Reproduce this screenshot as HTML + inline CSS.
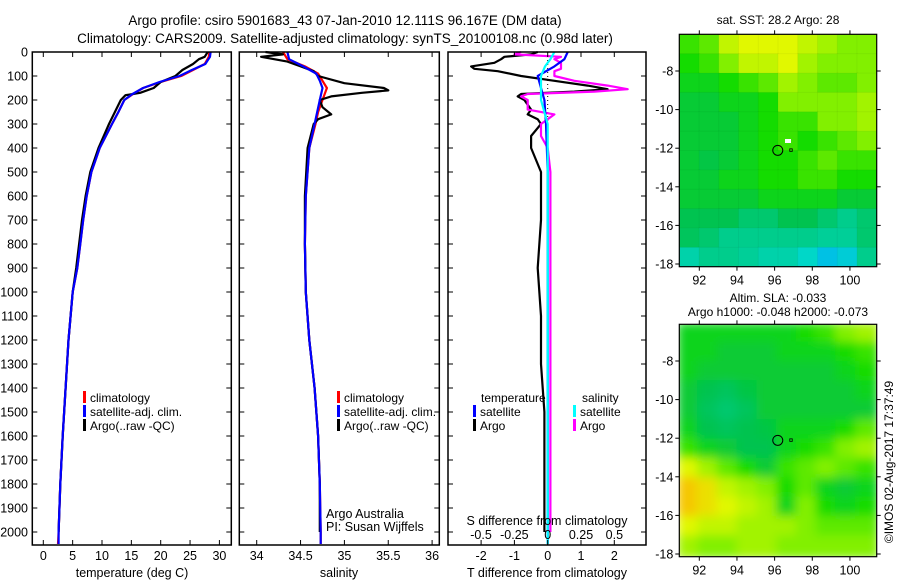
<!DOCTYPE html>
<html><head><meta charset="utf-8"><style>
body{margin:0;background:#fff;}
svg{display:block;font-family:"Liberation Sans",sans-serif;}
text{fill:#000;}
</style></head><body>
<svg id="c" width="900" height="580" viewBox="0 0 900 580">
<text x="345" y="25" font-size="13.5" text-anchor="middle">Argo profile: csiro 5901683_43 07-Jan-2010 12.111S 96.167E (DM data)</text>
<text x="345" y="43" font-size="13.5" text-anchor="middle">Climatology: CARS2009. Satellite-adjusted climatology: synTS_20100108.nc (0.98d later)</text>
</svg>
<script>
// ---- data ----
const tDepth=[0,20,50,75,100,125,150,175,200,250,300,400,500,600,700,800,900,1000,1200,1400,1600,1800,2000,2050];
const tClim=[28.3,28.2,27.5,25.5,23.5,20,17,15.3,13.8,12.8,11.7,9.6,8.2,7.4,6.8,6.3,5.8,5.0,4.3,3.8,3.3,2.9,2.6,2.5];
const tSat=[28.5,28.4,27.6,25.3,23.2,19.8,17.0,15.2,13.8,12.8,11.7,9.6,8.2,7.4,6.8,6.3,5.8,5.0,4.3,3.8,3.3,2.9,2.6,2.6];
const aDepth=[0,20,30,50,75,100,125,150,170,180,200,250,300,400,500,600,700,800,900,1000,1200,1400,1600,1800,2000];
const tArgo=[28.0,27.5,26.5,25.5,23.7,22.5,20,18.8,16.5,14,13.2,12.2,11.2,9.4,8.0,7.2,6.6,6.1,5.6,5.0,4.3,3.8,3.3,2.9,2.6];
const sDepth=[0,30,60,90,120,150,200,250,300,400,600,800,1000,1200,1400,1600,1800,2000,2050];
const sClim=[34.3,34.35,34.55,34.7,34.75,34.8,34.75,34.7,34.67,34.6,34.56,34.55,34.56,34.6,34.66,34.7,34.72,34.73,34.73];
const sSat=[34.35,34.37,34.53,34.68,34.72,34.75,34.72,34.69,34.66,34.6,34.56,34.55,34.56,34.6,34.66,34.7,34.72,34.73,34.73];
const saDepth=[0,10,20,40,60,80,100,130,150,160,170,185,200,230,260,280,300,400,600,800,1000,1200,1400,1600,1800,2000];
const sArgo=[34.1,34.3,34.05,34.35,34.5,34.65,34.7,35.0,35.45,35.5,35.2,34.85,34.72,34.75,34.85,34.7,34.65,34.58,34.55,34.55,34.56,34.6,34.66,34.7,34.72,34.72];
const dDepth=[0,10,20,30,45,60,70,80,100,120,140,155,165,175,185,200,220,240,260,280,300,350,400,500,700,900,1100,1300,1500,1700,1900,2000];
const tDiffArgo=[-0.3,-0.5,-1.3,-1.4,-1.6,-2.3,-2.2,-1.5,-0.8,0.2,1.2,1.8,0.8,-0.8,-0.9,-0.7,-0.6,-0.5,-0.6,-0.3,-0.2,-0.5,-0.5,-0.2,-0.2,-0.3,-0.2,-0.2,-0.1,-0.1,-0.1,-0.1];
const sDiffArgo=[-0.2,-0.25,0.1,0.05,0.1,0.1,0.1,0.05,0.05,0.2,0.45,0.6,0.35,-0.15,-0.2,-0.15,-0.15,-0.15,0.05,0,-0.05,-0.05,0,0.02,0.02,0.02,0.02,0.02,0.02,0.02,0.02,0.02];
const ddDepth=[0,30,60,100,150,200,300,500,2050];
const tDiffSat=[0.6,0.5,0.2,-0.3,-0.2,-0.1,-0.05,0,0];
const sDiffSat=[0.05,0.02,-0.02,-0.05,-0.05,-0.05,0,0,0];
const depthTicks=[0,100,200,300,400,500,600,700,800,900,1000,1100,1200,1300,1400,1500,1600,1700,1800,1900,2000];
const tTicks=[0,5,10,15,20,25,30];
const sTicks=[34,34.5,35,35.5,36];
const sTickLabels=["34","34.5","35","35.5","36"];
const tdTicks=[-2,-1,0,1,2];
const sdTicks=[-0.5,-0.25,0,0.25,0.5];
const sdTickLabels=["-0.5","-0.25","0","0.25","0.5"];
const lonTicks=[92,94,96,98,100];
const latTicks=[-8,-10,-12,-14,-16,-18];
const sstGrid=[
[.6,.65,.8,.85,.85,.85,.8,.75,.7,.7],
[.55,.6,.7,.8,.8,.85,.75,.7,.7,.7],
[.5,.5,.55,.6,.65,.75,.7,.65,.65,.7],
[.45,.45,.5,.5,.55,.7,.7,.7,.7,.75],
[.45,.45,.45,.5,.55,.6,.6,.7,.7,.75],
[.45,.45,.45,.5,.55,.6,.55,.6,.65,.7],
[.45,.42,.45,.5,.55,.55,.6,.65,.6,.6],
[.45,.45,.5,.5,.55,.55,.6,.6,.55,.55],
[.45,.45,.45,.45,.5,.5,.5,.5,.45,.45],
[.4,.4,.4,.35,.35,.4,.4,.35,.3,.35],
[.38,.35,.3,.3,.3,.3,.3,.28,.28,.35],
[.25,.3,.3,.28,.25,.25,.2,.1,.15,.3]];
const slaGrid=[
[.5,.5,.5,.5,.5,.5,.55,.6,.7,.75],
[.5,.5,.45,.45,.45,.5,.5,.5,.55,.6],
[.5,.45,.45,.45,.45,.45,.45,.45,.5,.55],
[.45,.4,.38,.42,.45,.45,.45,.45,.45,.5],
[.45,.38,.35,.38,.45,.45,.45,.45,.45,.45],
[.5,.4,.38,.4,.42,.5,.5,.5,.55,.65],
[.6,.5,.45,.4,.4,.5,.55,.6,.7,.75],
[.85,.75,.65,.55,.45,.6,.65,.7,.65,.6],
[.95,.9,.8,.75,.7,.55,.65,.5,.45,.5],
[.95,.9,.85,.8,.75,.5,.7,.55,.5,.55],
[.85,.8,.8,.75,.75,.75,.7,.65,.65,.65],
[.75,.7,.7,.75,.75,.7,.7,.7,.7,.7]];

const NS="http://www.w3.org/2000/svg";
const svg=document.getElementById('c');
function mk(tag,attrs,parent){const e=document.createElementNS(NS,tag);for(const k in attrs)e.setAttribute(k,attrs[k]);(parent||svg).appendChild(e);return e;}
function txt(x,y,s,size,anchor,parent){const e=mk('text',{x:x,y:y,'font-size':size,'text-anchor':anchor||'middle'},parent);e.textContent=s;return e;}

const Y0=52,YPX=0.24,PT=52,PB=545;
const yD=d=>Y0+d*YPX;
const xT=t=>43.3+t*5.87;
const xS=s=>256.7+(s-34)*87.7;
const xTD=t=>547.7+t*33.3;
const xSD=s=>547.7+s*133.3;

function frame(x0,x1,name){
  const r=mk('rect',{x:x0,y:PT,width:x1-x0,height:PB-PT,fill:'none',stroke:'#000','stroke-width':1.5});
  
  
  depthTicks.forEach(d=>{mk('line',{x1:x0,x2:x0+5,y1:yD(d),y2:yD(d),stroke:'#000'});mk('line',{x1:x1,x2:x1-5,y1:yD(d),y2:yD(d),stroke:'#000'});});
}
function xticks(vals,labels,fx,y0,name){
  vals.forEach((v,i)=>{const x=fx(v);mk('line',{x1:x,x2:x,y1:PB,y2:PB-5,stroke:'#000'});mk('line',{x1:x,x2:x,y1:PT,y2:PT+5,stroke:'#000'});
    const t=txt(x,y0,labels[i],12.5);
    
    });
}
function line(xs,ds,fx,color,name,w){
  const pts=xs.map((v,i)=>fx(v).toFixed(1)+','+yD(ds[i]).toFixed(1)).join(' ');
  const p=mk('polyline',{points:pts,fill:'none',stroke:color,'stroke-width':w||2.2,'stroke-linejoin':'round'});
  
  
}
const defs=mk('defs',{});

// panel 1
line(tClim,tDepth,xT,'#f00','temp-climatology-line');
line(tArgo,aDepth,xT,'#000','temp-argo-line');
line(tSat,tDepth,xT,'#0000ff','temp-satellite-line');
frame(32.3,231.3,'temperature-panel');
xticks(tTicks,tTicks.map(String),xT,560,'temperature-tick');
depthTicks.forEach(d=>{const t=txt(28,yD(d)+4.5,String(d),12.5,'end');
  
  });
let t=txt(132,577,'temperature (deg C)',12.5);



// panel 2
line(sClim,sDepth,xS,'#f00','salinity-climatology-line');
line(sArgo,saDepth,xS,'#000','salinity-argo-line');
line(sSat,sDepth,xS,'#0000ff','salinity-satellite-line');
frame(239.3,439.3,'salinity-panel');
xticks(sTicks,sTickLabels,xS,560,'salinity-tick');
t=txt(339,577,'salinity',12.5);


t=txt(326,518,'Argo Australia',12.5,'start');


t=txt(326,531,'PI: Susan Wijffels',12.5,'start');



// panel 3
mk('line',{x1:xTD(0),x2:xTD(0),y1:PT,y2:PB,stroke:'#000','stroke-dasharray':'1,3'});
line(tDiffArgo,dDepth,xTD,'#000','temp-diff-argo-line');
line(sDiffArgo,dDepth,xSD,'#ff00ff','sal-diff-argo-line');
line(tDiffSat,ddDepth,xTD,'#0000ff','temp-diff-satellite-line');
line(sDiffSat,ddDepth,xSD,'#00ffff','sal-diff-satellite-line');
frame(448,646,'difference-panel');
xticks(tdTicks,tdTicks.map(String),xTD,560,'tdiff-tick');
sdTicks.forEach((v,i)=>{const tt=txt(xSD(v),539,sdTickLabels[i],12.5);
  
  });
t=txt(547,525,'S difference from climatology',12.5);


t=txt(547,577,'T difference from climatology',12.5);



// legends
function legend(x,y,color,label,name){
  mk('rect',{x:x,y:y-6,width:3,height:12,fill:color});
  const tt=txt(x+7,y+5,label,12,'start');
  
  
}
legend(83,397,'#f00','climatology','legend-climatology');
legend(83,411,'#0000ff','satellite-adj. clim.','legend-satellite');
legend(83,425,'#000','Argo(..raw -QC)','legend-argo');
legend(337,397,'#f00','climatology','legend-climatology');
legend(337,411,'#0000ff','satellite-adj. clim.','legend-satellite');
legend(337,425,'#000','Argo(..raw -QC)','legend-argo');
t=txt(481,402,'temperature',12,'start');


t=txt(582,402,'salinity',12,'start');


legend(473,411,'#0000ff','satellite','legend-temp-satellite');
legend(473,425,'#000','Argo','legend-temp-argo');
legend(573,411,'#00ffff','satellite','legend-sal-satellite');
legend(573,425,'#ff00ff','Argo','legend-sal-argo');

// maps
const stops=[[0,[0,170,255]],[0.2,[0,215,200]],[0.4,[0,195,80]],[0.55,[20,220,0]],[0.7,[130,240,0]],[0.85,[225,248,0]],[1,[255,175,0]]];
function cmap(v){for(let i=1;i<stops.length;i++){if(v<=stops[i][0]){const a=stops[i-1],b=stops[i],f=(v-a[0])/(b[0]-a[0]);
  return 'rgb('+a[1].map((c,k)=>Math.round(c+(b[1][k]-c)*f)).join(',')+')';}}return 'rgb(255,175,0)';}
const MX0=679.3,MX1=876.7,lonX=l=>699.3+(l-92)*18.83;
function map(grid,y0,y1,name,blur){
  const cp=mk('clipPath',{id:name+'-clip'},defs);mk('rect',{x:MX0,y:y0,width:MX1-MX0,height:y1-y0},cp);
  const g=mk('g',{'clip-path':'url(#'+name+'-clip)'});
  
  
  const inner=mk('g',blur?{filter:'url(#blur)'}:{},g);
  const rows=grid.length,cols=grid[0].length,cw=(MX1-MX0)/cols,rh=(y1-y0)/rows;
  grid.forEach((row,r)=>row.forEach((v,c)=>{
    const cell=mk('rect',{x:MX0+c*cw-(blur?2:0),y:y0+r*rh-(blur?2:0),width:cw+(blur?4:0.6),height:rh+(blur?4:0.6),fill:cmap(v)},inner);
    if(!blur){cell.setAttribute('stroke','rgba(0,0,0,0.04)');}
    
    
  }));
  const latY=l=>y0+36.7+(-8-l)*19.3;
  mk('rect',{x:MX0,y:y0,width:MX1-MX0,height:y1-y0,fill:'none',stroke:'#000','stroke-width':1.2});
  lonTicks.forEach(l=>{const x=lonX(l);mk('line',{x1:x,x2:x,y1:y0,y2:y0-4,stroke:'#000'});mk('line',{x1:x,x2:x,y1:y1,y2:y1+4,stroke:'#000'});
    const tt=txt(x,y1+18,String(l),12.5);
    
    });
  latTicks.forEach(l=>{const y=latY(l);mk('line',{x1:MX0,x2:MX0-4,y1:y,y2:y,stroke:'#000'});mk('line',{x1:MX1,x2:MX1+4,y1:y,y2:y,stroke:'#000'});
    const tt=txt(MX0-6,y+4.5,String(l),12.5,'end');
    
    });
  const cy=latY(-12.111),cx=lonX(96.167);
  const m=mk('circle',{cx:cx,cy:cy,r:5,fill:'none',stroke:'#000','stroke-width':1});
  
  
  mk('rect',{x:cx+12,y:cy-1.5,width:2.5,height:2.5,fill:'none',stroke:'#000','stroke-width':0.8});
}
const f=mk('filter',{id:'blur',x:'-5%',y:'-5%',width:'110%',height:'110%'},defs);mk('feGaussianBlur',{stdDeviation:5},f);
map(sstGrid,34.3,266.7,'sst-map',false);
mk('rect',{x:785,y:139,width:6,height:4,fill:'#fff'});
map(slaGrid,324.3,556.7,'sla-map',true);
t=txt(778,24,'sat. SST: 28.2 Argo: 28',12);


t=txt(778,302,'Altim. SLA: -0.033',12);


t=txt(778,316,'Argo h1000: -0.048 h2000: -0.073',12);


t=txt(0,0,'©IMOS 02-Aug-2017 17:37:49',12);
t.setAttribute('transform','translate(893,462) rotate(-90)');


</script>
</body></html>
